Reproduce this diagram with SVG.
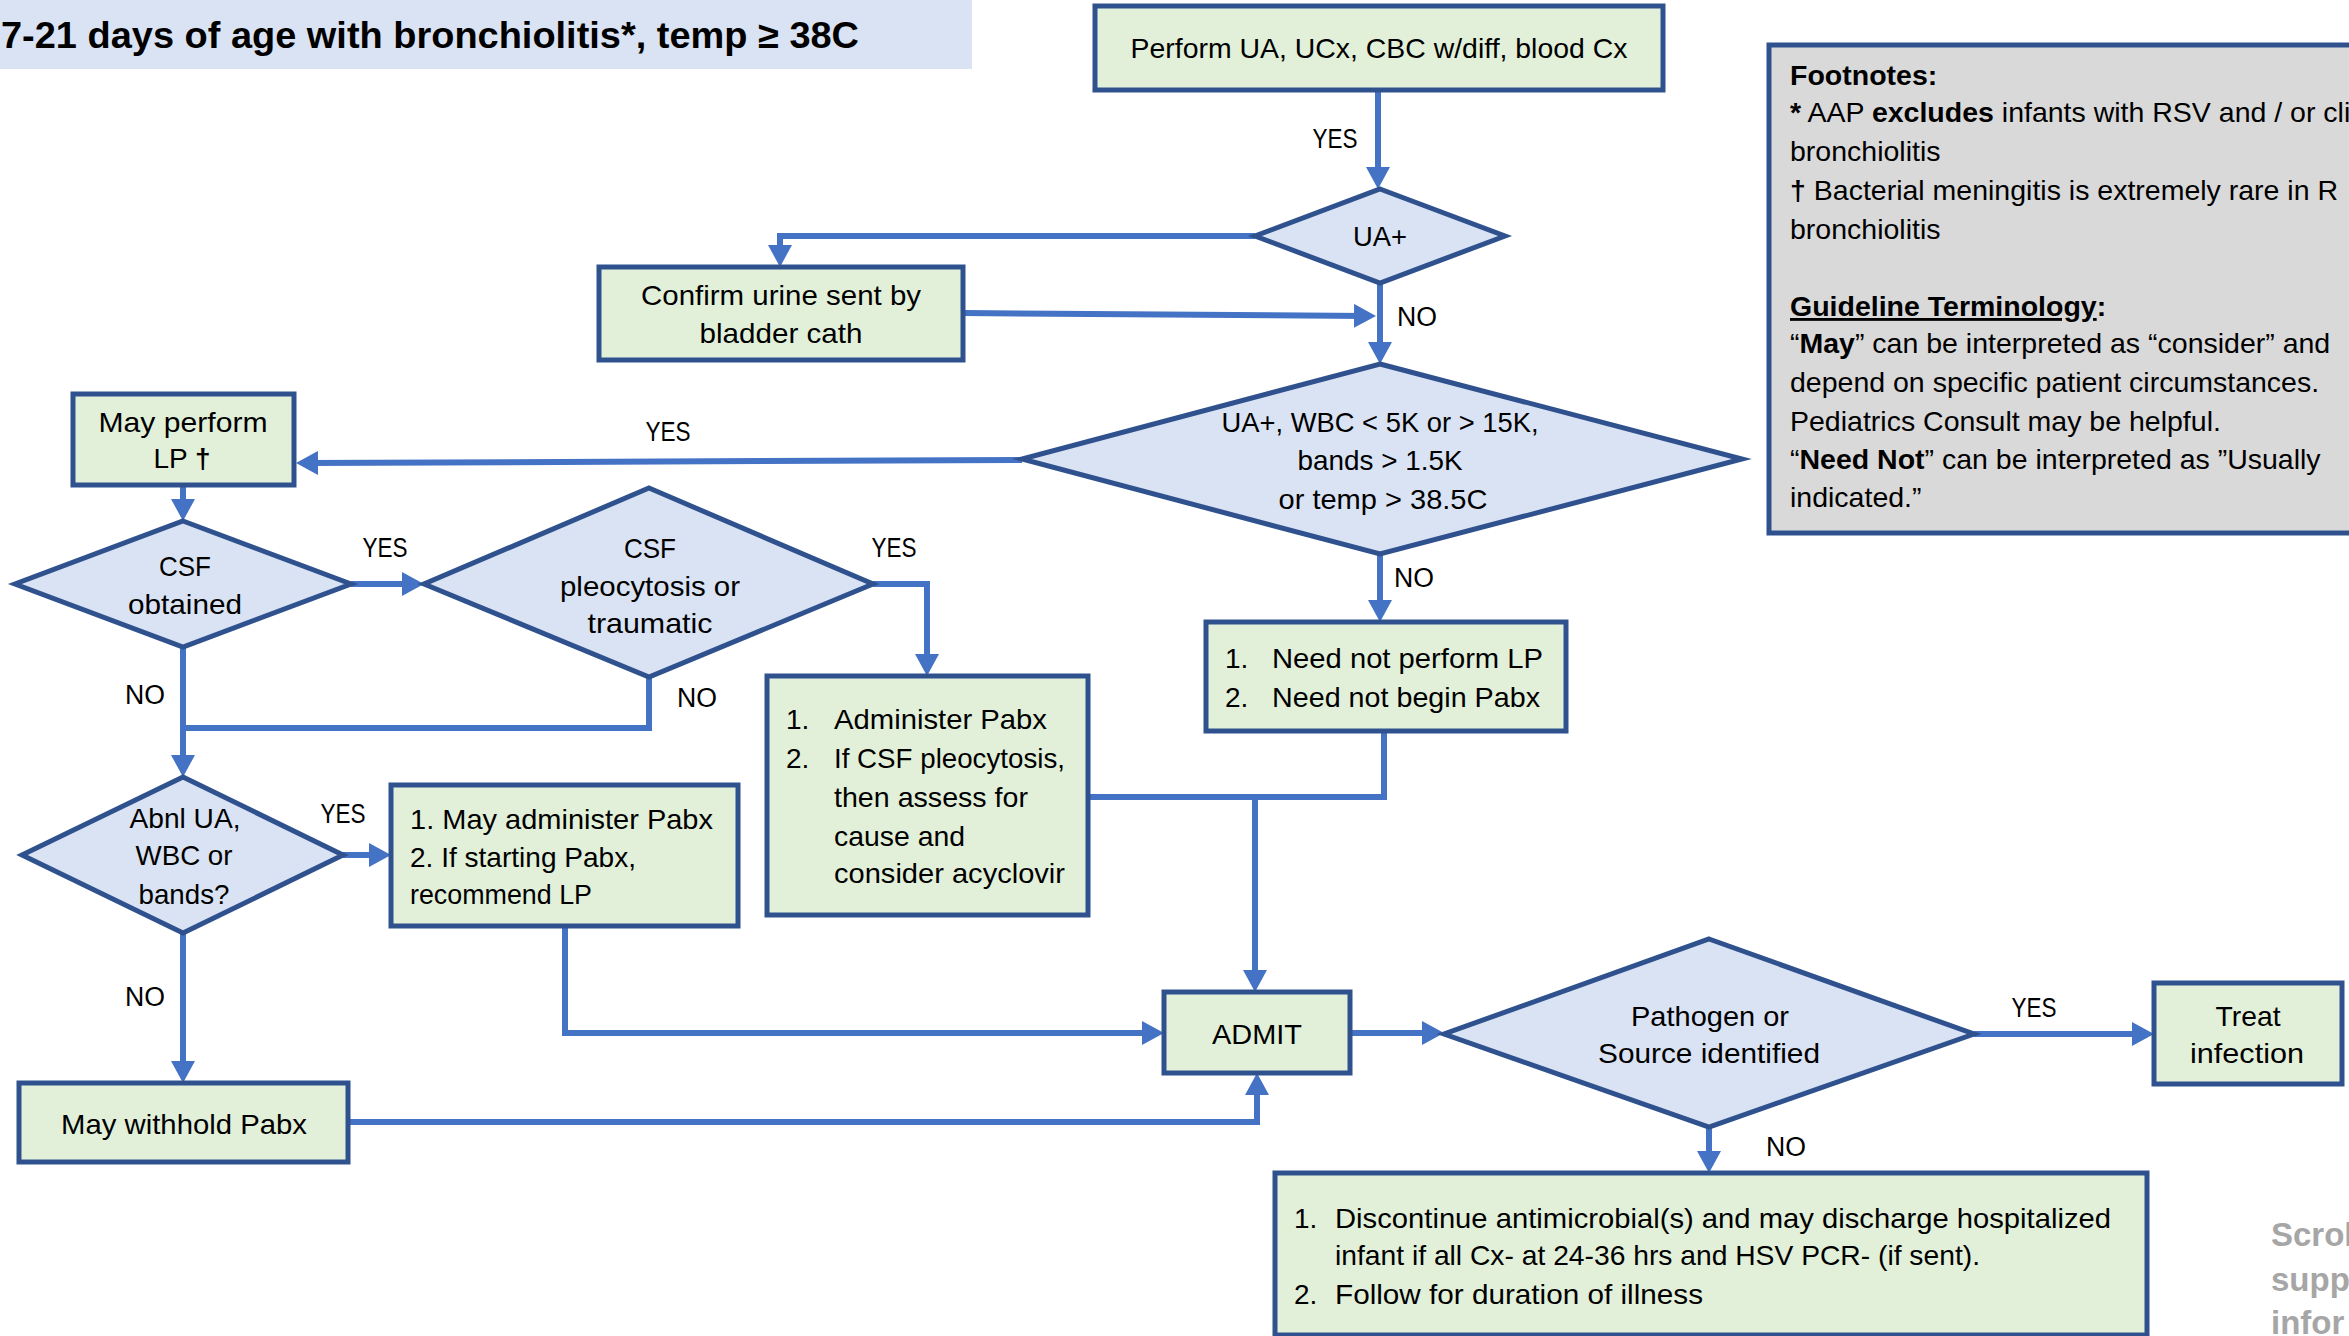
<svg xmlns="http://www.w3.org/2000/svg" width="2349" height="1336" viewBox="0 0 2349 1336">
<defs>
<style>
.box{fill:#E2F0D9;stroke:#2F528F;stroke-width:5}
.dia{fill:#DAE3F3;stroke:#2F528F;stroke-width:5}
.note{fill:#D9D9D9;stroke:#2F528F;stroke-width:5}
.conn{fill:none;stroke:#4472C4;stroke-width:6}
.arr{marker-end:url(#ah)}
text{font-family:"Liberation Sans",Arial,sans-serif;font-size:28px;fill:#000}
.c{text-anchor:middle}
.lbl{font-size:27px}
.fn{font-size:28.5px}
.b{font-weight:bold}
.title{font-size:37px;font-weight:bold}
.gray{font-size:33px;font-weight:bold;fill:#A6A6A6}
</style>
<marker id="ah" markerUnits="userSpaceOnUse" viewBox="0 0 22 24" markerWidth="22" markerHeight="24" refX="14" refY="12" orient="auto">
<path d="M0,0 L22,12 L0,24 z" fill="#4472C4"/>
</marker>
</defs>
<rect width="2349" height="1336" fill="#FFFFFF"/>

<g id="title">
<rect x="0" y="0" width="972" height="69" fill="#DAE3F3"/>
<text class="title" x="1" y="48" textLength="858" lengthAdjust="spacingAndGlyphs">7-21 days of age with bronchiolitis*, temp ≥ 38C</text>
</g>

<g id="connectors">
<path class="conn arr" d="M1378,90 V181"/>
<path class="conn arr" d="M1255,236 H780 V259"/>
<path class="conn arr" d="M963,313 L1368,316"/>
<path class="conn arr" d="M1380,283 V356"/>
<path class="conn arr" d="M1022,460 L304,463"/>
<path class="conn arr" d="M183,485 V513"/>
<path class="conn arr" d="M351,584 H416"/>
<path class="conn arr" d="M873,584 H927 V668"/>
<path class="conn arr" d="M183,647 V769"/>
<path class="conn" d="M649,677 V728 H183"/>
<path class="conn arr" d="M343,855 H383"/>
<path class="conn arr" d="M183,933 V1075"/>
<path class="conn arr" d="M348,1122 H1257 V1081"/>
<path class="conn arr" d="M565,926 V1033 H1156"/>
<path class="conn arr" d="M1088,797 H1255 V984"/>
<path class="conn" d="M1384,731 V797 H1255"/>
<path class="conn arr" d="M1380,554 V614"/>
<path class="conn arr" d="M1350,1033 H1436"/>
<path class="conn arr" d="M1974,1034 H2146"/>
<path class="conn arr" d="M1709,1127 V1165"/>
<text class="lbl c" x="1335" y="148" textLength="45" lengthAdjust="spacingAndGlyphs">YES</text>
<text class="lbl c" x="1417" y="326" textLength="40" lengthAdjust="spacingAndGlyphs">NO</text>
<text class="lbl c" x="668" y="441" textLength="45" lengthAdjust="spacingAndGlyphs">YES</text>
<text class="lbl c" x="385" y="557" textLength="45" lengthAdjust="spacingAndGlyphs">YES</text>
<text class="lbl c" x="894" y="557" textLength="45" lengthAdjust="spacingAndGlyphs">YES</text>
<text class="lbl c" x="1414" y="587" textLength="40" lengthAdjust="spacingAndGlyphs">NO</text>
<text class="lbl c" x="145" y="704" textLength="40" lengthAdjust="spacingAndGlyphs">NO</text>
<text class="lbl c" x="697" y="707" textLength="40" lengthAdjust="spacingAndGlyphs">NO</text>
<text class="lbl c" x="343" y="823" textLength="45" lengthAdjust="spacingAndGlyphs">YES</text>
<text class="lbl c" x="145" y="1006" textLength="40" lengthAdjust="spacingAndGlyphs">NO</text>
<text class="lbl c" x="2034" y="1017" textLength="45" lengthAdjust="spacingAndGlyphs">YES</text>
<text class="lbl c" x="1786" y="1156" textLength="40" lengthAdjust="spacingAndGlyphs">NO</text>
</g>

<g id="perform">
<rect class="box" x="1095" y="6" width="568" height="84"/>
<text class="c" x="1379" y="58" textLength="497" lengthAdjust="spacingAndGlyphs">Perform UA, UCx, CBC w/diff, blood Cx</text>
</g>

<g id="ua">
<polygon class="dia" points="1380,189 1505,236 1380,283 1255,236"/>
<text class="c" x="1380" y="246" textLength="54" lengthAdjust="spacingAndGlyphs">UA+</text>
</g>

<g id="confirm">
<rect class="box" x="599" y="267" width="364" height="93"/>
<text class="c" x="781" y="305" textLength="280" lengthAdjust="spacingAndGlyphs">Confirm urine sent by</text>
<text class="c" x="781" y="343" textLength="163" lengthAdjust="spacingAndGlyphs">bladder cath</text>
</g>

<g id="criteria">
<polygon class="dia" points="1380,364 1742,459 1380,554 1022,459"/>
<text class="c" x="1380" y="432" textLength="317" lengthAdjust="spacingAndGlyphs">UA+, WBC &lt; 5K or &gt; 15K,</text>
<text class="c" x="1380" y="470" textLength="165" lengthAdjust="spacingAndGlyphs">bands &gt; 1.5K</text>
<text class="c" x="1383" y="509" textLength="209" lengthAdjust="spacingAndGlyphs">or temp &gt; 38.5C</text>
</g>

<g id="maylp">
<rect class="box" x="73" y="394" width="221" height="91"/>
<text class="c" x="183" y="432" textLength="169" lengthAdjust="spacingAndGlyphs">May perform</text>
<text class="c" x="182" y="468">LP <tspan class="b">†</tspan></text>
</g>

<g id="csfobtained">
<polygon class="dia" points="183,521 351,584 183,647 15,584"/>
<text class="c" x="185" y="576" textLength="52" lengthAdjust="spacingAndGlyphs">CSF</text>
<text class="c" x="185" y="614" textLength="114" lengthAdjust="spacingAndGlyphs">obtained</text>
</g>

<g id="pleo">
<polygon class="dia" points="649,488 873,584 649,677 424,584"/>
<text class="c" x="650" y="558" textLength="52" lengthAdjust="spacingAndGlyphs">CSF</text>
<text class="c" x="650" y="596" textLength="180" lengthAdjust="spacingAndGlyphs">pleocytosis or</text>
<text class="c" x="650" y="633" textLength="125" lengthAdjust="spacingAndGlyphs">traumatic</text>
</g>

<g id="administer">
<rect class="box" x="767" y="676" width="321" height="239"/>
<text x="786" y="729">1.</text>
<text x="834" y="729" textLength="213" lengthAdjust="spacingAndGlyphs">Administer Pabx</text>
<text x="786" y="768">2.</text>
<text x="834" y="768" textLength="231" lengthAdjust="spacingAndGlyphs">If CSF pleocytosis,</text>
<text x="834" y="807" textLength="194" lengthAdjust="spacingAndGlyphs">then assess for</text>
<text x="834" y="846" textLength="131" lengthAdjust="spacingAndGlyphs">cause and</text>
<text x="834" y="883" textLength="231" lengthAdjust="spacingAndGlyphs">consider acyclovir</text>
</g>

<g id="neednot">
<rect class="box" x="1206" y="622" width="360" height="109"/>
<text x="1225" y="668">1.</text>
<text x="1272" y="668" textLength="271" lengthAdjust="spacingAndGlyphs">Need not perform LP</text>
<text x="1225" y="707">2.</text>
<text x="1272" y="707" textLength="268" lengthAdjust="spacingAndGlyphs">Need not begin Pabx</text>
</g>

<g id="abnl">
<polygon class="dia" points="183,777 343,855 183,933 22,855"/>
<text class="c" x="185" y="828" textLength="111" lengthAdjust="spacingAndGlyphs">Abnl UA,</text>
<text class="c" x="184" y="865" textLength="97" lengthAdjust="spacingAndGlyphs">WBC or</text>
<text class="c" x="184" y="904" textLength="91" lengthAdjust="spacingAndGlyphs">bands?</text>
</g>

<g id="mayadminister">
<rect class="box" x="391" y="785" width="347" height="141"/>
<text x="410" y="829" textLength="303" lengthAdjust="spacingAndGlyphs">1. May administer Pabx</text>
<text x="410" y="867" textLength="226" lengthAdjust="spacingAndGlyphs">2. If starting Pabx,</text>
<text x="410" y="904" textLength="182" lengthAdjust="spacingAndGlyphs">recommend LP</text>
</g>

<g id="withhold">
<rect class="box" x="19" y="1083" width="329" height="79"/>
<text class="c" x="184" y="1134" textLength="246" lengthAdjust="spacingAndGlyphs">May withhold Pabx</text>
</g>

<g id="admit">
<rect class="box" x="1164" y="992" width="186" height="81"/>
<text class="c" x="1257" y="1044" textLength="90" lengthAdjust="spacingAndGlyphs">ADMIT</text>
</g>

<g id="pathogen">
<polygon class="dia" points="1709,939 1974,1034 1709,1127 1444,1034"/>
<text class="c" x="1710" y="1026" textLength="158" lengthAdjust="spacingAndGlyphs">Pathogen or</text>
<text class="c" x="1709" y="1063" textLength="222" lengthAdjust="spacingAndGlyphs">Source identified</text>
</g>

<g id="treat">
<rect class="box" x="2154" y="983" width="188" height="101"/>
<text class="c" x="2248" y="1026" textLength="65" lengthAdjust="spacingAndGlyphs">Treat</text>
<text class="c" x="2247" y="1063" textLength="114" lengthAdjust="spacingAndGlyphs">infection</text>
</g>

<g id="discontinue">
<rect class="box" x="1275" y="1173" width="872" height="162"/>
<text x="1294" y="1228">1.</text>
<text x="1335" y="1228" textLength="776" lengthAdjust="spacingAndGlyphs">Discontinue antimicrobial(s) and may discharge hospitalized</text>
<text x="1335" y="1265" textLength="645" lengthAdjust="spacingAndGlyphs">infant if all Cx- at 24-36 hrs and HSV PCR- (if sent).</text>
<text x="1294" y="1304">2.</text>
<text x="1335" y="1304" textLength="368" lengthAdjust="spacingAndGlyphs">Follow for duration of illness</text>
</g>

<g id="footnotes">
<rect class="note" x="1769" y="45" width="600" height="488"/>
<text class="fn b" x="1790" y="85">Footnotes:</text>
<text class="fn" x="1790" y="122"><tspan class="b">*</tspan> AAP <tspan class="b">excludes</tspan> infants with RSV and / or cli</text>
<text class="fn" x="1790" y="161">bronchiolitis</text>
<text class="fn" x="1790" y="200"><tspan class="b">†</tspan> Bacterial meningitis is extremely rare in R</text>
<text class="fn" x="1790" y="239">bronchiolitis</text>
<text class="fn" x="1790" y="316"><tspan class="b" text-decoration="underline">Guideline Terminology</tspan><tspan class="b">:</tspan></text>
<text class="fn" x="1790" y="353">“<tspan class="b">May</tspan>” can be interpreted as “consider” and</text>
<text class="fn" x="1790" y="392">depend on specific patient circumstances.</text>
<text class="fn" x="1790" y="431">Pediatrics Consult may be helpful.</text>
<text class="fn" x="1790" y="469">“<tspan class="b">Need Not</tspan>” can be interpreted as ”Usually</text>
<text class="fn" x="1790" y="507">indicated.”</text>
</g>

<g id="scroll">
<text class="gray" x="2271" y="1246">Scrol</text>
<text class="gray" x="2271" y="1291">suppl</text>
<text class="gray" x="2271" y="1334">infor</text>
</g>
</svg>
